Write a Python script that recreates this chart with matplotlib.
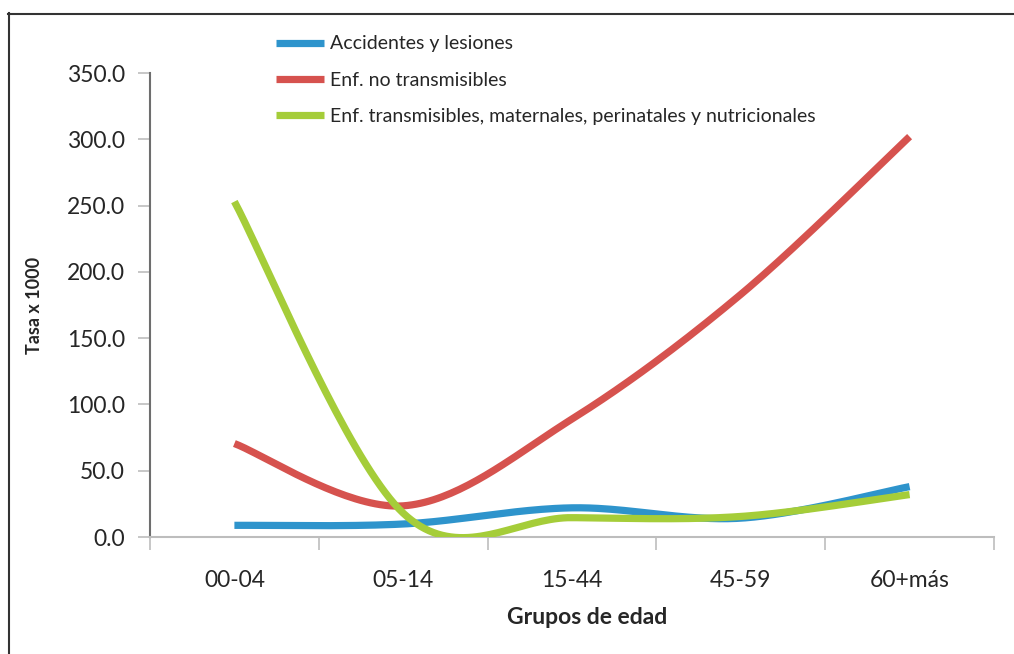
import matplotlib
matplotlib.use('Agg')
import matplotlib.pyplot as plt
from matplotlib.lines import Line2D
import numpy as np

plt.rcParams['font.family'] = ['Lato', 'DejaVu Sans']

categories = ['00-04', '05-14', '15-44', '45-59', '60+más']
accidentes = [8.8, 9.8, 22.0, 14.2, 38.0]
no_transmisibles = [70.5, 23.5, 89.0, 183.0, 302.0]
transmisibles = [253.0, 18.0, 14.6, 15.5, 32.0]

series_names = ['Accidentes y lesiones', 'Enf. no transmisibles',
                'Enf. transmisibles, maternales, perinatales y nutricionales']
series_colors = ['#2e94cc', '#d6524e', '#a5cd39']

W, H = 1014, 654


def smooth(xs, ys, n=40):
    # Excel-style smoothed line: cubic bezier with control points at 1/6 of neighbour span
    pts = np.column_stack([xs, ys]).astype(float)
    P = np.vstack([pts[0], pts, pts[-1]])
    t = np.linspace(0, 1, n)[:, None]
    out = []
    for i in range(len(pts) - 1):
        p0, p1 = pts[i], pts[i + 1]
        c1 = p0 + (P[i + 2] - P[i]) / 6
        c2 = p1 - (P[i + 3] - P[i + 1]) / 6
        seg = (1 - t) ** 3 * p0 + 3 * (1 - t) ** 2 * t * c1 + 3 * (1 - t) * t ** 2 * c2 + t ** 3 * p1
        out.append(seg if i == 0 else seg[1:])
    out = np.vstack(out)
    return out[:, 0], out[:, 1]


fig = plt.figure(figsize=(W / 100, H / 100), dpi=100)
ax = fig.add_axes([150 / W, 1 - 537 / H, (994 - 150) / W, (537 - 73) / H])

x = np.arange(len(categories))
for vals, name, col in zip([accidentes, no_transmisibles, transmisibles], series_names, series_colors):
    sx, sy = smooth(x, vals)
    ax.plot(sx, sy, color=col, lw=5.2, label=name, solid_capstyle='butt', zorder=3)

ax.set_xlim(-0.5, len(categories) - 0.5)
ax.set_ylim(0, 350)
ax.set_yticks(np.arange(0, 351, 50))
ax.set_yticklabels([f'{v:.1f}' for v in np.arange(0, 351, 50)])
ax.set_xticks(x)
ax.set_xticklabels(categories)
ax.set_xticks(np.arange(-0.5, len(categories)), minor=True)
ax.tick_params(axis='x', which='major', length=0, pad=24, labelsize=16.5, labelcolor='#262626')
ax.tick_params(axis='x', which='minor', length=9, width=1.2, color='#bdbdbd', direction='out')
ax.tick_params(axis='y', length=9, width=1.2, color='#bdbdbd', pad=9, labelsize=16.5, labelcolor='#262626')

for s in ['top', 'right']:
    ax.spines[s].set_visible(False)
ax.spines['left'].set_color('#6e6e6e')
ax.spines['left'].set_linewidth(1.5)
ax.spines['bottom'].set_color('#bdbdbd')
ax.spines['bottom'].set_linewidth(1.5)

fig.text(35 / W, 1 - 305 / H, 'Tasa x 1000', rotation=90, ha='center', va='center',
         fontsize=13, fontweight='bold', color='#262626')
fig.text(587 / W, 1 - 618 / H, 'Grupos de edad', ha='center', va='center',
         fontsize=16.5, fontweight='bold', color='#262626')

fig.legend(loc='upper left', bbox_to_anchor=(258 / W, 1 - 18 / H), frameon=False,
           fontsize=14, handlelength=2.5, handletextpad=0.3, labelspacing=0.98,
           labelcolor='#262626')

# outer frame of the chart area
fig.add_artist(Line2D([8.5 / W, 8.5 / W], [0, 1 - 13 / H], color='#333333', lw=1.5))
fig.add_artist(Line2D([8 / W, 1], [1 - 13.5 / H, 1 - 13.5 / H], color='#333333', lw=1.5))

plt.savefig('out.png', dpi=100)
plt.close()
